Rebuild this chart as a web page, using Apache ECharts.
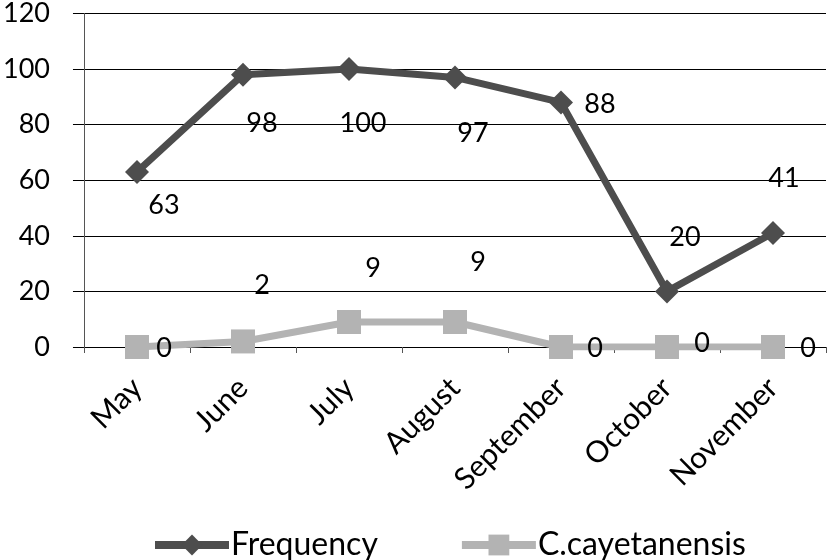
<!DOCTYPE html>
<html><head><meta charset="utf-8">
<script src="https://cdn.jsdelivr.net/npm/echarts@6/dist/echarts.min.js"></script>
<style>html,body{margin:0;padding:0;background:#fff}#c{width:829px;height:560px}</style>
</head><body><div id="c"></div>
<script>
const categories = ['May','June','July','August','September','October','November'];
const frequency = [63, 98, 100, 97, 88, 20, 41];
const cayetanensis = [0, 2, 9, 9, 0, 0, 0];
const yTicks = [0, 20, 40, 60, 80, 100, 120];

const freqOffsets = [[27,33],[19,49],[14,54],[18,56],[39,2],[18,-54],[11,-55]];
const cayOffsets = [[27,1],[19,-56],[24,-54],[23,-60],[34,1],[35,-4],[35,1]];
const FONT = 'Lato, "Open Sans", sans-serif';
const FREQ_COLOR = '#4d4d4d', CAY_COLOR = '#b3b3b3';
const DIAMOND = 'path://M0,-1 L1,0 L0,1 L-1,0 Z';

function withLabels(vals, offs){
  return vals.map((v,i)=>({value:v, label:{show:true, position:'inside', offset:offs[i]}}));
}
const chart = echarts.init(document.getElementById('c'));
chart.setOption({
  animation:false,
  textStyle:{fontFamily:FONT},
  grid:{left:81, right:3, top:13, bottom:213, containLabel:false},
  legend:{
    top:524, left:146, itemGap:80, itemWidth:74, itemHeight:26,
    textStyle:{fontSize:32, color:'#000', fontFamily:FONT, padding:[0,0,0,-3]},
    lineStyle:{width:8},
    data:['Frequency','C.cayetanensis']
  },
  xAxis:{
    type:'category', data:categories, boundaryGap:true,
    axisLine:{show:true, lineStyle:{color:'#000', width:1}},
    axisTick:{show:true, length:6, lineStyle:{color:'#555'}},
    axisLabel:{rotate:45, fontSize:30, color:'#000', margin:36, fontFamily:FONT}
  },
  yAxis:{
    type:'value', min:0, max:120, interval:20,
    axisLine:{show:true, lineStyle:{color:'#555', width:1}},
    axisTick:{show:true, length:11, lineStyle:{color:'#000'}},
    axisLabel:{fontSize:27, color:'#000', margin:34, fontFamily:FONT,
      formatter:v=>yTicks.includes(v)?String(v):''},
    splitLine:{show:true, lineStyle:{color:'#000', width:1}}
  },
  series:[
    {name:'Frequency', type:'line', data:withLabels(frequency,freqOffsets),
     symbol:DIAMOND, symbolSize:24,
     itemStyle:{color:FREQ_COLOR}, lineStyle:{color:FREQ_COLOR, width:7},
     label:{fontSize:27, color:'#000', fontFamily:FONT}, z:3},
    {name:'C.cayetanensis', type:'line', data:withLabels(cayetanensis,cayOffsets),
     symbol:'rect', symbolSize:24,
     itemStyle:{color:CAY_COLOR}, lineStyle:{color:CAY_COLOR, width:7},
     label:{fontSize:27, color:'#000', fontFamily:FONT}, z:2}
  ]
});
</script></body></html>
